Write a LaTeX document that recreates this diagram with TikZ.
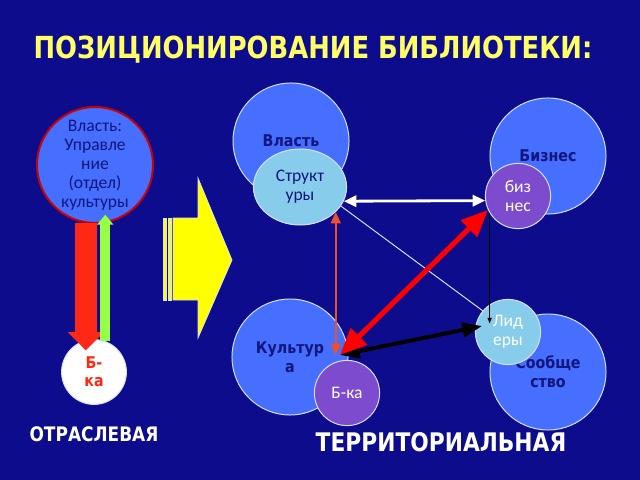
\documentclass[tikz,border=0pt]{standalone}
\usepackage{fontspec}
\setmainfont{Liberation Sans}
\newfontfamily\labfont{DejaVu Sans}[FakeStretch=0.88]
\newfontfamily\headfont{DejaVu Sans}[FakeStretch=0.85]
\newfontfamily\smfont{Carlito}
\usetikzlibrary{arrows.meta,shapes.geometric}
\definecolor{bg}{RGB}{12,12,140}
\definecolor{cblue}{RGB}{70,110,255}
\definecolor{cdark}{RGB}{18,22,125}
\definecolor{clight}{RGB}{135,205,235}
\definecolor{cpurple}{RGB}{125,75,205}
\definecolor{cyel}{RGB}{255,255,0}
\definecolor{ctitle}{RGB}{255,255,100}
\definecolor{cred}{RGB}{255,40,20}
\definecolor{cgreen}{RGB}{150,255,70}
\definecolor{corange}{RGB}{240,80,40}
\definecolor{crim}{RGB}{215,225,255}
\begin{document}
\begin{tikzpicture}[x=0.025cm,y=-0.025cm,
  big/.style={circle,draw=crim,line width=0.7pt,fill=cblue,minimum size=2.9cm,inner sep=0pt,
    text=cdark,align=center,font=\labfont\bfseries\fontsize{11.5}{13.5}\selectfont},
  small/.style={circle,draw=crim,line width=0.7pt,minimum size=1.63cm,inner sep=0pt,
    align=center,font=\smfont\fontsize{12.5}{13.5}\selectfont}]
\fill[bg](0,0)rectangle(640,480);
\node[text=ctitle,font=\headfont\bfseries\fontsize{21.6}{24}\selectfont](title)at(313,50){ПОЗИЦИОНИРОВАНИЕ БИБЛИОТЕКИ:};

\node[big,draw=red!80!black,line width=1.4pt,font=\smfont\fontsize{12.5}{13.5}\selectfont,text=cdark](vlast)at(95,165){Власть:\\Управле\\ние\\(отдел)\\культуры};
\node[small,fill=white,minimum size=1.62cm,text=cred,font=\labfont\bfseries\fontsize{11.5}{13}\selectfont](bka)at(94,372){Б-\\ка};
\draw[cred,line width=15.6pt,-{Triangle[length=13pt,width=25pt]},shorten >=-8pt](vlast.-99)--(vlast.-99|-bka.north);
\draw[cgreen,line width=7pt,-{Triangle[length=7pt,width=11pt]},shorten >=-6pt](bka.70)--(bka.70|-vlast.-80);
\node[text=white,font=\headfont\bfseries\fontsize{14.2}{16}\selectfont](otr)at(94,434){ОТРАСЛЕВАЯ};

\filldraw[fill=cyel,draw=crim,line width=0.5pt](163,218)rectangle(166.5,300);
\filldraw[fill=cyel,draw=crim,line width=0.5pt](168,218)rectangle(171.5,300);
\filldraw[fill=cyel,draw=crim,line width=0.5pt]
(173,218)--(198,218)--(198,178)--(232,260)--(198,338)--(198,300)--(173,300)--cycle;

\node[big](vl)at(291,141){Власть};
\node[big](bizbig)at(548,156){Бизнес};
\node[big](kult)at(290,357){Культур\\а};
\node[big](soob)at(548,372){Сообще\\ство};
\node[small,ellipse,fill=clight,text=cdark,minimum width=2.33cm,minimum height=1.9cm](strukt)at(300,187){Структ\\уры};
\node[small,fill=cpurple,text=white](biz)at(518,196){биз\\нес};
\node[small,fill=cpurple,text=white](bk)at(347,393){Б-ка};
\node[small,fill=clight,text=white](lid)at(508,332){Лид\\еры};
\coordinate(kb)at(340,355);

\draw[crim,line width=0.7pt](strukt.-25)--(lid.140);
\draw[black,line width=0.8pt,-{Triangle[length=4pt,width=3pt]}](biz.211)--(biz.211|-lid.165);
\draw[white,line width=2pt,{Triangle[length=9pt,width=8pt]}-{Triangle[length=9pt,width=8pt]}](strukt.-18)--(biz.188);
\draw[corange,line width=1.4pt,{Triangle[length=8pt,width=7pt]}-{Triangle[length=8pt,width=7pt]}](strukt.-35.5)--(strukt.-35.5|-kb);
\draw[black,line width=2.8pt,{Triangle[length=14pt,width=10pt]}-{Triangle[length=14pt,width=10pt]},shorten >=-5pt](kb)--(lid.172);
\draw[red,line width=3.6pt,{Triangle[length=19pt,width=16pt]}-{Triangle[length=19pt,width=16pt]}](kb)--(biz.205);

\node[text=white,font=\headfont\bfseries\fontsize{18.2}{20}\selectfont](terr)at(441,442){ТЕРРИТОРИАЛЬНАЯ};
\end{tikzpicture}
\end{document}
